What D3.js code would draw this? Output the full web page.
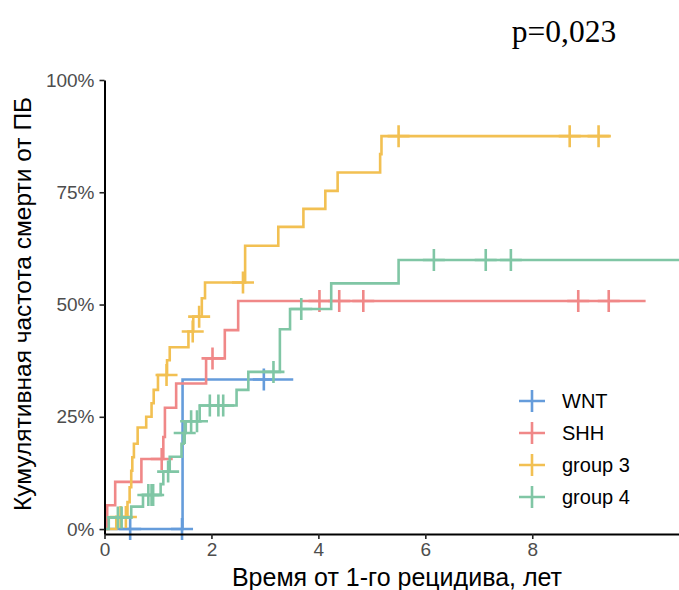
<!DOCTYPE html>
<html>
<head>
<meta charset="utf-8">
<script src="https://cdn.jsdelivr.net/npm/d3@7"></script>
<style>
  body { margin: 0; background: #fff; }
  svg { display: block; font-family: "Liberation Sans", Arial, sans-serif; }
</style>
</head>
<body>
<div id="chart"></div>
<script>
// group names and colours
const groups = ['WNT', 'SHH', 'group 3', 'group 4'];
const colors = ['#659cdb', '#f08888', '#f2c052', '#80c6a5'];

// event times (years) and cumulative incidence after each step
const wntTimes = [0, 1.46];
const wntLevels = [0, 0.333];
const wntCensor = [0.48, 1.45, 2.98];
const wntEnd = 3.53;

const shhTimes = [0, 0.05, 0.2, 0.69, 1.10, 1.13, 1.34, 1.90, 2.25, 2.50];
const shhLevels = [0, 0.053, 0.105, 0.156, 0.205, 0.27, 0.324, 0.38, 0.443, 0.508];
const shhCensor = [1.07, 2.02, 4.02, 4.39, 4.84, 8.86, 9.43];
const shhEnd = 10.12;

const g3Times = [0, 0.22, 0.43, 0.47, 0.50, 0.52, 0.55, 0.62, 0.78, 0.88, 0.92, 1.0,
  1.17, 1.22, 1.57, 1.66, 1.82, 1.88, 2.63, 3.25, 3.72, 4.13, 4.36, 5.155, 5.18];
const g3Levels = [0, 0.027, 0.06, 0.093, 0.13, 0.16, 0.19, 0.226, 0.25, 0.28, 0.31, 0.343,
  0.376, 0.405, 0.44, 0.473, 0.514, 0.549, 0.631, 0.673, 0.713, 0.753, 0.794, 0.835, 0.875];
const g3Censor = [0.30, 0.40, 1.16, 1.65, 1.77, 2.59, 5.50, 8.70, 9.24];
const g3End = 9.47;

const g4Times = [0, 0.08, 0.5, 0.72, 1.05, 1.10, 1.22, 1.44, 1.48, 1.52, 1.78, 2.47, 2.69,
  3.28, 3.47, 4.24, 5.50];
const g4Levels = [0, 0.026, 0.05, 0.076, 0.10, 0.128, 0.161, 0.19, 0.214, 0.24, 0.275, 0.31,
  0.35, 0.445, 0.49, 0.547, 0.599];
const g4Censor = [0.25, 0.32, 0.82, 0.88, 0.91, 1.19, 1.50, 1.62, 1.73, 1.97, 2.13, 2.22,
  3.16, 3.68, 6.16, 7.13, 7.60];
const g4End = 10.95;

const xTicks = [0, 2, 4, 6, 8];
const yTicks = [0, 0.25, 0.5, 0.75, 1];

const series = [
  { times: wntTimes, levels: wntLevels, censor: wntCensor, end: wntEnd },
  { times: shhTimes, levels: shhLevels, censor: shhCensor, end: shhEnd },
  { times: g3Times, levels: g3Levels, censor: g3Censor, end: g3End },
  { times: g4Times, levels: g4Levels, censor: g4Censor, end: g4End }
];

const width = 679;
const height = 590;

const x = d3.scaleLinear().domain([0, 10.95]).range([104.5, 690]);
const y = d3.scaleLinear().domain([-0.011, 1]).range([534, 80]);

const svg = d3.select('#chart')
  .append('svg')
  .attr('width', width)
  .attr('height', height);

svg.append('defs')
  .append('clipPath')
  .attr('id', 'plot-clip')
  .append('rect')
  .attr('x', 100)
  .attr('y', 60)
  .attr('width', 600)
  .attr('height', 480);

// level of a step function at time t
function levelAt(s, t) {
  let lv = 0;
  s.times.forEach((tt, i) => {
    if (tt <= t) lv = s.levels[i];
  });
  return lv;
}

const line = d3.line()
  .x((d) => x(d[0]))
  .y((d) => y(d[1]))
  .curve(d3.curveStepAfter);

const plot = svg.append('g').attr('clip-path', 'url(#plot-clip)');

series.forEach((s, i) => {
  const pts = s.times.map((t, j) => [t, s.levels[j]]);
  pts.push([s.end, s.levels[s.levels.length - 1]]);

  plot.append('path')
    .datum(pts)
    .attr('fill', 'none')
    .attr('stroke', colors[i])
    .attr('stroke-width', 2.6)
    .attr('d', line);

  // censor marks
  plot.append('g')
    .selectAll('path')
    .data(s.censor)
    .join('path')
    .attr('fill', 'none')
    .attr('stroke', colors[i])
    .attr('stroke-width', 2.6)
    .attr('d', (t) => {
      const cx = x(t);
      const cy = y(levelAt(s, t));
      return `M${cx - 11},${cy}H${cx + 11}M${cx},${cy - 11}V${cy + 11}`;
    });
});

// axes
const yAxis = svg.append('g')
  .attr('transform', `translate(${x(0)},0)`)
  .call(d3.axisLeft(y).tickValues(yTicks).tickFormat(d3.format('.0%')).tickSize(5).tickSizeOuter(0).tickPadding(5));

const xAxis = svg.append('g')
  .attr('transform', `translate(0,534)`)
  .call(d3.axisBottom(x).tickValues(xTicks).tickSize(5).tickSizeOuter(0).tickPadding(4));

[yAxis, xAxis].forEach((a) => {
  a.select('.domain').attr('stroke', '#000').attr('stroke-width', 2);
  a.selectAll('.tick line').attr('stroke', '#222').attr('stroke-width', 1.6);
  a.selectAll('.tick text')
    .attr('fill', '#4d4d4d')
    .attr('font-size', 19)
    .attr('font-family', '"Liberation Sans", Arial, sans-serif');
});

// axis titles
svg.append('text')
  .attr('transform', 'translate(31,304) rotate(-90)')
  .attr('text-anchor', 'middle')
  .attr('font-size', 24.5)
  .attr('fill', '#000')
  .text('Кумулятивная частота смерти от ПБ');

svg.append('text')
  .attr('x', 397)
  .attr('y', 586)
  .attr('text-anchor', 'middle')
  .attr('font-size', 25)
  .attr('fill', '#000')
  .text('Время от 1-го рецидива, лет');

// p value
svg.append('text')
  .attr('x', 564)
  .attr('y', 42)
  .attr('text-anchor', 'middle')
  .attr('font-family', '"Liberation Serif", "Times New Roman", serif')
  .attr('font-size', 31.5)
  .attr('fill', '#000')
  .text('p=0,023');

// legend
const legend = svg.append('g')
  .selectAll('g')
  .data(groups)
  .join('g')
  .attr('transform', (d, i) => `translate(532,${401 + i * 32})`);

legend.append('path')
  .attr('fill', 'none')
  .attr('stroke', (d, i) => colors[i])
  .attr('stroke-width', 2.6)
  .attr('d', 'M-13,0H13M0,-11V11');

legend.append('text')
  .attr('x', 30)
  .attr('y', 7)
  .attr('font-size', 20)
  .attr('fill', '#000')
  .text((d) => d);
</script>
</body>
</html>
